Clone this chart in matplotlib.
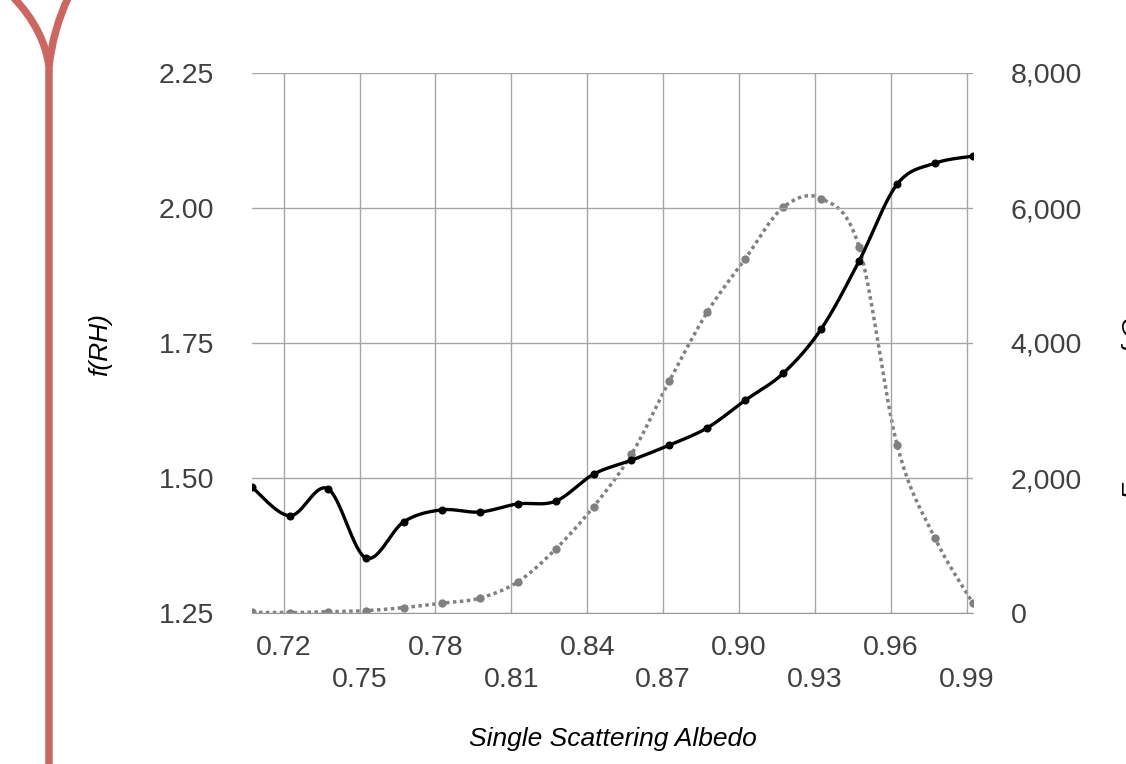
import numpy as np
from matplotlib import pyplot as plt
from matplotlib.path import Path
from matplotlib.patches import PathPatch
from matplotlib.ticker import FuncFormatter

plt.rcParams['font.family'] = ['Liberation Sans', 'DejaVu Sans']

# single scattering albedo bin centres
ssa = [0.7075, 0.7225, 0.7375, 0.7525, 0.7675, 0.7825, 0.7975, 0.8125, 0.8275, 0.8425,
       0.8575, 0.8725, 0.8875, 0.9025, 0.9175, 0.9325, 0.9475, 0.9625, 0.9775, 0.9925]
# f(RH), left axis
frh = [1.483, 1.430, 1.480, 1.352, 1.419, 1.441, 1.437, 1.452, 1.457, 1.507,
       1.533, 1.561, 1.593, 1.644, 1.694, 1.776, 1.902, 2.044, 2.083, 2.096]
# counts, right axis
counts = [10, 5, 20, 35, 80, 145, 220, 460, 945, 1575,
          2350, 3440, 4460, 5250, 6010, 6140, 5420, 2490, 1105, 145]

x_ticks = [0.72, 0.75, 0.78, 0.81, 0.84, 0.87, 0.90, 0.93, 0.96, 0.99]
left_ticks = [1.25, 1.50, 1.75, 2.00, 2.25]
right_ticks = [0, 2000, 4000, 6000, 8000]


def smooth(x, y, n=30):
    # excel style smoothed line (bezier through every point)
    x = np.asarray(x, float)
    y = np.asarray(y, float)
    px = np.concatenate([[x[0]], x, [x[-1]]])
    py = np.concatenate([[y[0]], y, [y[-1]]])
    t = np.linspace(0, 1, n)[:, None]
    xs, ys = [], []
    for i in range(1, len(px) - 2):
        p0 = np.array([px[i], py[i]])
        p3 = np.array([px[i + 1], py[i + 1]])
        c1 = p0 + (np.array([px[i + 1], py[i + 1]]) - np.array([px[i - 1], py[i - 1]])) / 6
        c2 = p3 - (np.array([px[i + 2], py[i + 2]]) - np.array([px[i], py[i]])) / 6
        b = (1 - t) ** 3 * p0 + 3 * (1 - t) ** 2 * t * c1 + 3 * (1 - t) * t ** 2 * c2 + t ** 3 * p3
        xs.append(b[:, 0])
        ys.append(b[:, 1])
    return np.concatenate(xs), np.concatenate(ys)


fig = plt.figure(figsize=(11.26, 7.64), dpi=100)
ax = fig.add_axes([252 / 1126, 1 - 613 / 764, 721 / 1126, 540 / 764])
ax2 = ax.twinx()
ax.set_zorder(ax2.get_zorder() + 1)
ax.patch.set_visible(False)

grey = '#808080'
sx, sy = smooth(ssa, counts)
ax2.plot(sx, sy, color=grey, lw=2.5, linestyle=(0, (1, 1)), dash_capstyle='butt')
ax2.plot(ssa, counts, 'o', color=grey, ms=6, mew=0)

bx, by = smooth(ssa, frh)
ax.plot(bx, by, color='black', lw=2.4)
ax.plot(ssa, frh, 'o', color='black', ms=5.8, mew=0)

ax.set_xlim(ssa[0], ssa[-1])
ax.set_ylim(left_ticks[0], left_ticks[-1])
ax2.set_ylim(right_ticks[0], right_ticks[-1])

ax.set_xticks(x_ticks)
ax.set_xticklabels([('%.2f' % v) if i % 2 == 0 else '\n%.2f' % v for i, v in enumerate(x_ticks)])
ax.set_yticks(left_ticks)
ax.yaxis.set_major_formatter(FuncFormatter(lambda v, p: '%.2f' % v))
ax2.set_yticks(right_ticks)
ax2.yaxis.set_major_formatter(FuncFormatter(lambda v, p: '{:,.0f}'.format(v)))

ax.grid(True, color='#a6a6a6', lw=1.0)
ax.set_axisbelow(True)
for a in (ax, ax2):
    for s in a.spines.values():
        s.set_visible(False)
ax.spines['bottom'].set_visible(True)
ax.spines['bottom'].set_color('#999999')

tc = '#404040'
ax.tick_params(axis='both', length=0, labelsize=20.5, colors=tc)
ax.tick_params(axis='y', pad=27)
ax.tick_params(axis='x', pad=16)
ax2.tick_params(axis='y', length=0, labelsize=20.5, colors=tc, pad=27)
for lab in ax.get_xticklabels():
    lab.set_linespacing(1.3)

ax.set_xlabel('Single Scattering Albedo', fontsize=19, style='italic', color='black', labelpad=24)
fig.text(100 / 1126, 1 - 345 / 764, 'f(RH)', fontsize=19, style='italic', rotation=90,
         ha='center', va='center')
fig.text(1122 / 1126, 1 - 350 / 764, 'Frequency of Occurrence', fontsize=19, style='italic',
         rotation=90, ha='left', va='center')

# red binder line on the left edge
W, H = 1126, 764
def fp(x, y):
    return (x / W, 1 - y / H)

verts = [fp(14, -2), fp(44, 30), fp(49, 66), fp(49, 770)]
codes = [Path.MOVETO, Path.CURVE3, Path.CURVE3, Path.LINETO]
verts2 = [fp(68, -2), fp(53, 30), fp(49, 66)]
codes2 = [Path.MOVETO, Path.CURVE3, Path.CURVE3]
red = '#cd6660'
fig.add_artist(PathPatch(Path(verts, codes), fill=False, ec=red, lw=5.4,
                         transform=fig.transFigure))
fig.add_artist(PathPatch(Path(verts2, codes2), fill=False, ec=red, lw=5.4,
                         transform=fig.transFigure))

fig.savefig('out.png', dpi=100)
